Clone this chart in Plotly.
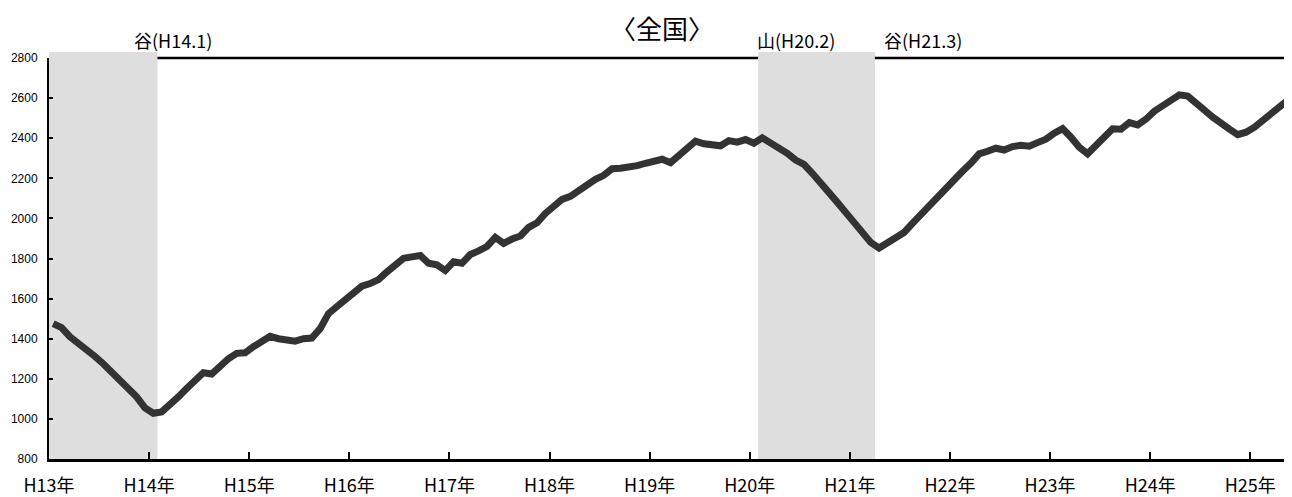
import plotly.graph_objects as go

# Monthly series, H13.1 .. H25.5 (149 months)
values = [
    1475, 1455, 1410, 1380, 1350, 1312, 1275, 1235, 1194, 1153, 1110, 1055,
    1028, 1035, 1068, 1110, 1152, 1195, 1230, 1224, 1268, 1300, 1327, 1330,
    1360, 1390, 1412, 1400, 1396, 1388, 1400, 1403, 1450, 1525, 1560, 1595,
    1632, 1662, 1675, 1695, 1733, 1765, 1801, 1808, 1815, 1776, 1768, 1740,
    1784, 1776, 1820, 1838, 1860, 1905, 1875, 1897, 1912, 1955, 1978, 2025,
    2065, 2095, 2110, 2140, 2170, 2195, 2215, 2248, 2250, 2255, 2263, 2275,
    2288, 2295, 2278, 2310, 2345, 2385, 2372, 2367, 2362, 2388, 2380, 2393,
    2375, 2402, 2378, 2355, 2325, 2291, 2270, 2225, 2180, 2130, 2080, 2030,
    1980, 1930, 1880, 1852, 1875, 1905, 1930, 1975, 2020, 2065, 2110, 2155,
    2195, 2235, 2275, 2322, 2335, 2350, 2341, 2358, 2365, 2360, 2378, 2395,
    2425, 2448, 2405, 2355, 2322, 2365, 2415, 2447, 2445, 2478, 2466, 2495,
    2535, 2562, 2598, 2616, 2610, 2580, 2540, 2505, 2470, 2445, 2418, 2430,
    2455, 2490, 2522, 2555, 2590,
]
year_labels = ["H13年", "H14年", "H15年", "H16年", "H17年", "H18年", "H19年",
               "H20年", "H21年", "H22年", "H23年", "H24年", "H25年"]
# recession periods as (first month index, last month index) from H13.1
recession_start = [0, 85]
recession_end = [12, 98]
cycle_labels = ["谷(H14.1)", "山(H20.2)", "谷(H21.3)"]
cycle_label_x = [132, 755, 882]  # page-pixel left edges of the labels

N = len(values)
x = [i + 0.5 for i in range(N)]
XMAX = 149.0

OFF = 8  # page body margin
W, H = 1292 - OFF, 497 - OFF
ML, MR, MT, MB = 49 - OFF, 0, 58 - OFF, 497 - 459
pw = W - ML - MR
ph = H - MT - MB


def px_x(px):
    return (px - OFF - ML) / pw


def px_y(py):
    return 1 + (MT - (py - OFF)) / ph


fig = go.Figure()
fig.add_trace(go.Scatter(x=x, y=values, mode="lines",
                         line=dict(color="#333333", width=7),
                         hoverinfo="skip", showlegend=False))

# top border line (drawn first, shading covers it)
fig.add_shape(type="line", xref="x domain", yref="y domain",
              x0=0, x1=1, y0=1, y1=1, layer="below",
              line=dict(color="black", width=2.5))
for s, e in zip(recession_start, recession_end):
    fig.add_shape(type="rect", xref="x domain", yref="y domain",
                  x0=s / XMAX, x1=(e + 1) / XMAX, y0=0, y1=1.015,
                  layer="below", line=dict(width=0), fillcolor="#dedede")

for t, px in zip(cycle_labels, cycle_label_x):
    fig.add_annotation(text=t, xref="paper", yref="paper",
                       x=px_x(px), y=px_y(40),
                       xanchor="left", yanchor="middle", showarrow=False,
                       font=dict(family="Noto Sans CJK JP", size=18, color="black"))

fig.add_annotation(text="〈全国〉", xref="paper", yref="paper",
                   x=px_x(662), y=px_y(27),
                   xanchor="center", yanchor="middle", showarrow=False,
                   font=dict(family="Noto Sans CJK JP", size=26, color="black"))

fig.update_xaxes(range=[0, XMAX], tickmode="array",
                 tickvals=[12 * i for i in range(len(year_labels))],
                 ticktext=year_labels, ticks="inside", ticklen=7, tickwidth=2,
                 tickcolor="black", showline=True, linecolor="black", linewidth=3,
                 showgrid=False, zeroline=False, automargin=False,
                 tickfont=dict(family="Noto Sans CJK JP", size=18, color="black"),
                 ticklabelstandoff=8)
fig.update_yaxes(range=[800, 2800], dtick=200, tick0=800,
                 ticks="inside", ticklen=4, tickwidth=1.5, tickcolor="black",
                 showline=True, linecolor="black", linewidth=2,
                 showgrid=False, zeroline=False, automargin=False,
                 tickfont=dict(family="Liberation Sans, Arial", size=12, color="black"),
                 ticklabelstandoff=7)

fig.update_layout(width=W, height=H, margin=dict(l=ML, r=MR, t=MT, b=MB),
                  plot_bgcolor="white", paper_bgcolor="white",
                  showlegend=False)

fig.write_html("out.html")
